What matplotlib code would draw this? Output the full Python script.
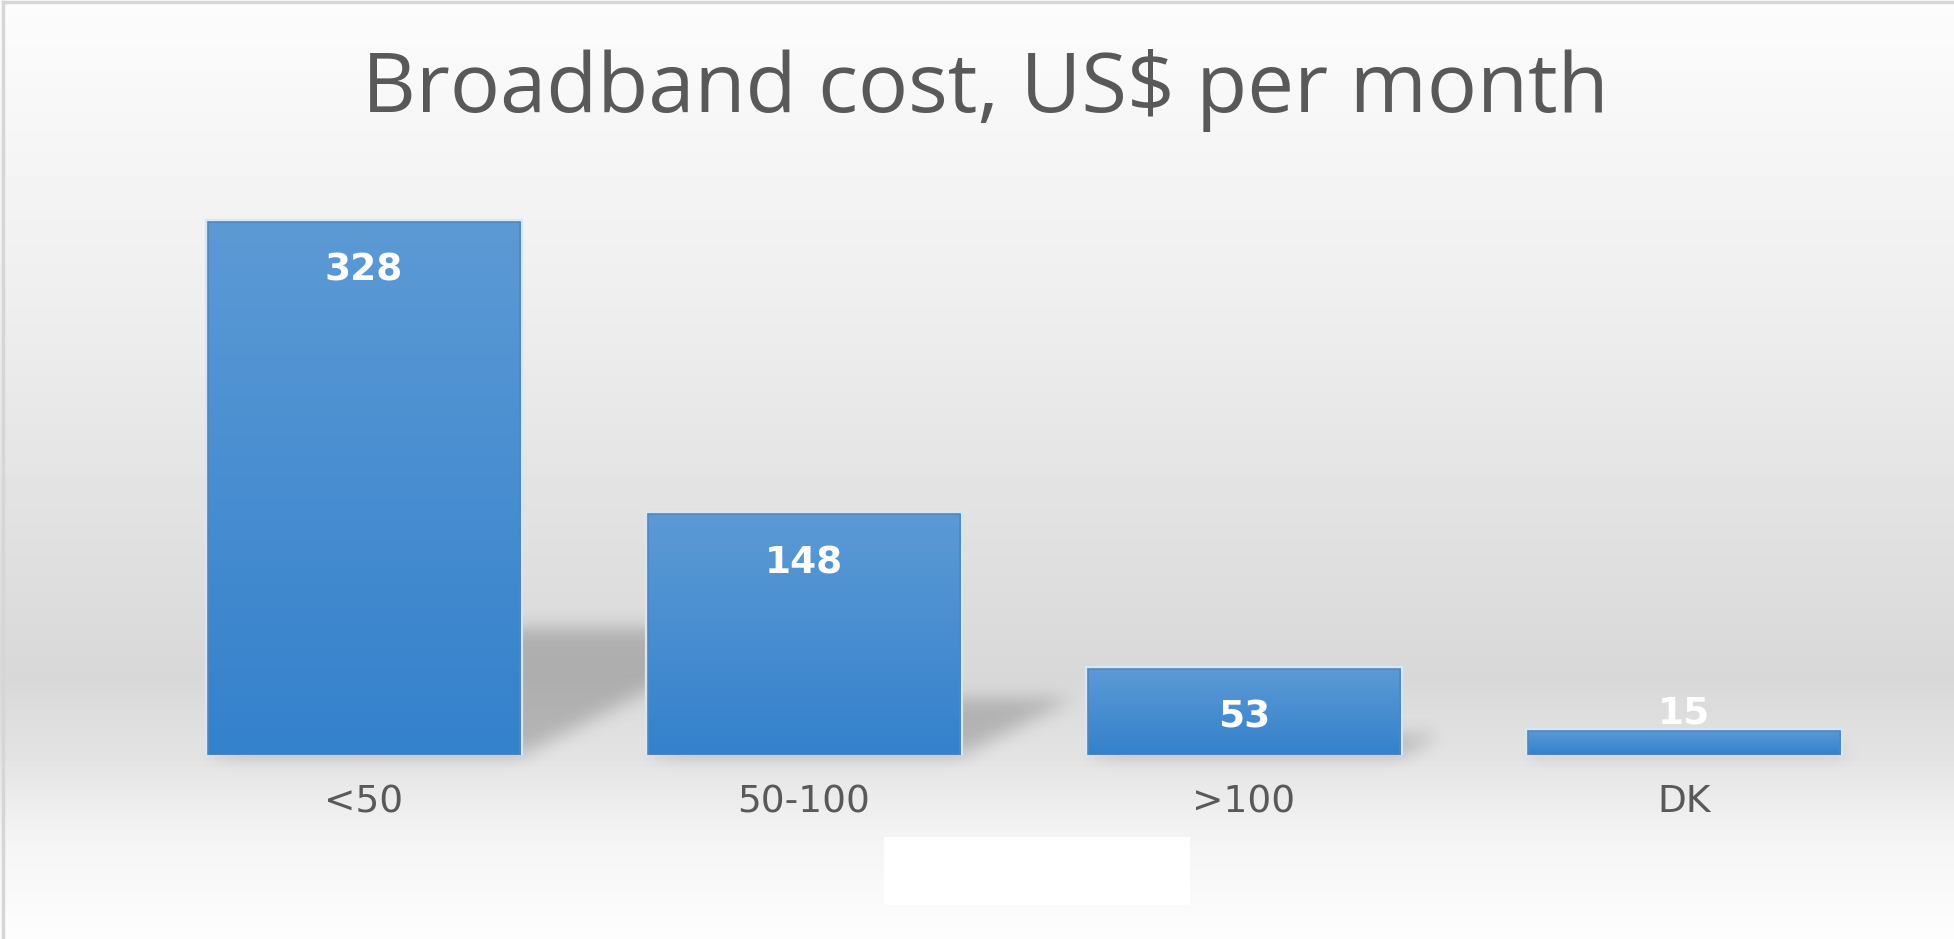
import numpy as np
import matplotlib
matplotlib.use('Agg')
import matplotlib.pyplot as plt
from matplotlib.colors import LinearSegmentedColormap
from matplotlib.patches import Rectangle
from matplotlib.lines import Line2D

categories = ['<50', '50-100', '>100', 'DK']
counts = [328, 148, 53, 15]
title = 'Broadband cost, US$ per month'

W, H = 1954, 939
fig = plt.figure(figsize=(W / 100, H / 100), dpi=100)


def blur(a, sigma):
    # separable gaussian blur, good enough for a soft shadow
    r = int(3 * sigma)
    k = np.exp(-0.5 * (np.arange(-r, r + 1) / sigma) ** 2)
    k /= k.sum()
    a = np.apply_along_axis(lambda v: np.convolve(v, k, mode='same'), 1, a)
    a = np.apply_along_axis(lambda v: np.convolve(v, k, mode='same'), 0, a)
    return a


# grey band gradient behind everything
bg = fig.add_axes([0, 0, 1, 1], zorder=0)
bg.set_axis_off()
rows = np.linspace(0, 1, H)
shade = np.interp(rows, [0, 0.33, 0.72, 0.80, 0.90, 1.0],
                  [252, 238, 216, 226, 245, 253]) / 255
bg.imshow(np.repeat(shade[:, None], W, axis=1), cmap='gray', vmin=0, vmax=1,
          extent=(0, W, H, 0), aspect='auto', interpolation='bilinear', zorder=0)
bg.set_xlim(0, W)
bg.set_ylim(H, 0)

# the bar chart itself
ax = fig.add_axes([144 / W, 184 / H, 1760 / W, 569 / H], zorder=1)
ax.patch.set_alpha(0)
for s in ax.spines.values():
    s.set_visible(False)

x = np.arange(len(categories))
bars = ax.bar(x, counts, width=0.71, color='#4a8fd1', edgecolor='#d3e9fb',
              linewidth=4.5, zorder=2)

bar_cmap = LinearSegmentedColormap.from_list('bar', ['#3481cc', '#5c9ad5'])
grad = np.linspace(0, 1, 256)[::-1, None]
for bar in bars:
    x0, w, h = bar.get_x(), bar.get_width(), bar.get_height()
    im = ax.imshow(grad, cmap=bar_cmap, extent=(x0, x0 + w, 0, h),
                   aspect='auto', zorder=3, interpolation='bilinear')
    im.set_clip_path(bar)
    ax.add_patch(Rectangle((x0, 0), w, h, fill=False, edgecolor='#5686b8',
                           lw=1.2, zorder=4))

ax.set_xlim(-0.5, 3.5)
ax.set_ylim(0, 350)
ax.set_yticks([])
ax.set_xticks(x, categories)
ax.tick_params(axis='x', length=0, pad=21, labelsize=27, labelcolor='#595959')

# value labels sit inside the bar top; too-short bars get theirs just above
for xi, v in zip(x, counts):
    bar_pts = (ax.transData.transform((xi, v))[1]
               - ax.transData.transform((xi, 0))[1]) * 72 / fig.dpi
    dy = -35 if bar_pts > 50 else 12
    ax.annotate(str(v), (xi, v), xytext=(0, dy), textcoords='offset points',
                ha='center', va='center', color='white', fontsize=27,
                fontweight='bold', zorder=5)

# perspective shadows falling back and to the right of each bar
mask = np.zeros((H, W))
yy, xx = np.mgrid[0:H, 0:W]
for bar in bars:
    (px0, pyb), (px1, pyt) = ax.transData.transform(
        [(bar.get_x(), 0), (bar.get_x() + bar.get_width(), bar.get_height())])
    base = H - pyb
    hgt = pyt - pyb
    sy, sx = 0.24 * hgt, 0.47 * hgt
    t = base - yy
    shift = t * sx / sy
    inside = (t >= 0) & (t <= sy) & (xx >= px0 + shift) & (xx <= px1 + shift)
    mask[inside] = 1
mask = blur(mask, 9)
shadow = np.zeros((H, W, 4))
shadow[..., 3] = 0.2 * mask
bg.imshow(shadow, extent=(0, W, H, 0), aspect='auto', zorder=1)

fig.text(985 / W, 1 - 91 / H, title, ha='center', va='center', fontsize=60,
         color='#595959', family='Open Sans')

# blank box under the category labels
fig.patches.append(Rectangle((884 / W, (H - 905) / H), 306 / W, 68 / H,
                             transform=fig.transFigure, facecolor='white',
                             edgecolor='none', zorder=2))

# thin frame on the top and left
fig.add_artist(Line2D([3 / W, 3 / W], [0, 1 - 2 / H], transform=fig.transFigure,
                      color='#d6d6d6', lw=2.5))
fig.add_artist(Line2D([3 / W, 1], [1 - 2 / H, 1 - 2 / H], transform=fig.transFigure,
                      color='#d6d6d6', lw=2.5))

fig.savefig('out.png', dpi=100)
